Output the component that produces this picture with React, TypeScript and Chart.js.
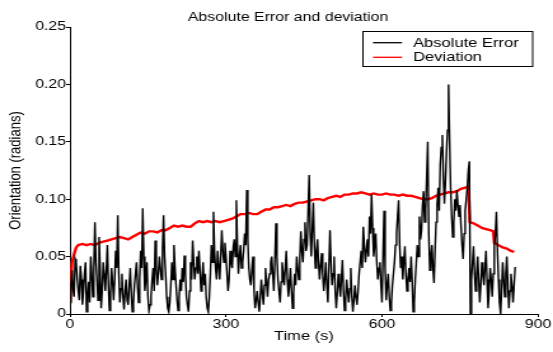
import React, { useEffect, useRef } from "react";
import { Chart, registerables } from "chart.js";

Chart.register(...registerables);

const TITLE = "Absolute Error and deviation";
const X_LABEL = "Time (s)";
const Y_LABEL = "Orientation (radians)";
const SERIES_NAMES = ["Absolute Error", "Deviation"];
const SERIES_COLORS = ["#000000", "#ff0000"];
const X_TICKS = [0, 300, 600, 900];
const Y_TICKS = [0, 0.05, 0.1, 0.15, 0.2, 0.25];

// Absolute error, one reading every 2 s starting at t = 0
const ERROR_STEP_S = 2;
const errorValues = [
  // 0 - 100
  0.010, 0.025, 0.038, 0.022, 0.015, 0.048, 0.045, 0.030, 0.020, 0.012, 0.042, 0.030, 0.008,
  0.020, 0.035, 0.045, 0.002, 0.015, 0.028, 0.010, 0.050, 0.035, 0.015, 0.040, 0.080, 0.045,
  0.030, 0.012, 0.067, 0.040, 0.005, 0.020, 0.045, 0.035, 0.020, 0.038, 0.060, 0.025, 0.003,
  0.018, 0.040, 0.028, 0.012, 0.030, 0.055, 0.040, 0.086, 0.035, 0.010, 0.022, 0.035,
  // 102 - 200
  0.015, 0.004, 0.020, 0.030, 0.012, 0.008, 0.025, 0.040, 0.018, 0.002, 0.010, 0.025, 0.035,
  0.045, 0.025, 0.010, 0.030, 0.055, 0.040, 0.092, 0.050, 0.020, 0.030, 0.045, 0.015, 0.003,
  0.008, 0.015, 0.030, 0.040, 0.020, 0.064, 0.040, 0.025, 0.035, 0.050, 0.040, 0.030, 0.055,
  0.086, 0.050, 0.035, 0.015, 0.005, 0.002, 0.010, 0.025, 0.045, 0.030, 0.060,
  // 202 - 300
  0.040, 0.025, 0.012, 0.003, 0.015, 0.030, 0.020, 0.040, 0.028, 0.051, 0.035, 0.015, 0.008,
  0.002, 0.020, 0.045, 0.030, 0.064, 0.045, 0.030, 0.040, 0.050, 0.035, 0.055, 0.038, 0.020,
  0.030, 0.045, 0.025, 0.035, 0.015, 0.005, 0.002, 0.015, 0.035, 0.060, 0.045, 0.089, 0.055,
  0.040, 0.030, 0.055, 0.042, 0.030, 0.050, 0.073, 0.055, 0.045, 0.062, 0.050,
  // 302 - 400
  0.035, 0.020, 0.030, 0.055, 0.045, 0.040, 0.058, 0.065, 0.050, 0.099, 0.060, 0.035, 0.050,
  0.060, 0.040, 0.045, 0.055, 0.070, 0.060, 0.108, 0.065, 0.040, 0.030, 0.025, 0.040, 0.050,
  0.020, 0.005, 0.012, 0.020, 0.010, 0.002, 0.015, 0.030, 0.018, 0.008, 0.025, 0.040, 0.028,
  0.015, 0.030, 0.035, 0.045, 0.050, 0.035, 0.020, 0.045, 0.079, 0.050, 0.030,
  // 402 - 500
  0.020, 0.010, 0.028, 0.045, 0.035, 0.025, 0.040, 0.055, 0.030, 0.015, 0.025, 0.040, 0.020,
  0.005, 0.018, 0.035, 0.025, 0.050, 0.040, 0.030, 0.048, 0.072, 0.055, 0.045, 0.065, 0.080,
  0.055, 0.060, 0.090, 0.121, 0.070, 0.050, 0.075, 0.097, 0.060, 0.040, 0.055, 0.065, 0.045,
  0.030, 0.042, 0.053, 0.035, 0.020, 0.030, 0.045, 0.025, 0.010, 0.040, 0.073,
  // 502 - 600
  0.045, 0.025, 0.035, 0.050, 0.020, 0.005, 0.018, 0.035, 0.025, 0.015, 0.030, 0.047, 0.020,
  0.003, 0.012, 0.030, 0.020, 0.010, 0.022, 0.040, 0.015, 0.002, 0.012, 0.025, 0.015, 0.008,
  0.020, 0.035, 0.045, 0.055, 0.040, 0.076, 0.060, 0.045, 0.055, 0.065, 0.050, 0.085, 0.070,
  0.104, 0.075, 0.050, 0.060, 0.070, 0.045, 0.030, 0.040, 0.045, 0.025, 0.010,
  // 602 - 700
  0.050, 0.090, 0.040, 0.012, 0.025, 0.035, 0.015, 0.003, 0.010, 0.025, 0.035, 0.045, 0.060,
  0.070, 0.085, 0.099, 0.060, 0.040, 0.050, 0.030, 0.045, 0.059, 0.035, 0.020, 0.030, 0.040,
  0.028, 0.050, 0.030, 0.002, 0.010, 0.030, 0.045, 0.060, 0.050, 0.085, 0.065, 0.073, 0.095,
  0.107, 0.080, 0.090, 0.120, 0.150, 0.070, 0.038, 0.050, 0.060, 0.040, 0.027,
  // 702 - 800
  0.055, 0.080, 0.095, 0.110, 0.090, 0.130, 0.145, 0.156, 0.120, 0.096, 0.115, 0.140, 0.160,
  0.200, 0.150, 0.110, 0.085, 0.067, 0.080, 0.100, 0.090, 0.108, 0.095, 0.085, 0.095, 0.076,
  0.060, 0.048, 0.070, 0.090, 0.100, 0.110, 0.125, 0.133, 0.000, 0.030, 0.045, 0.059, 0.035,
  0.020, 0.035, 0.050, 0.030, 0.010, 0.025, 0.045, 0.035, 0.025, 0.040, 0.055,
  // 802 - 856
  0.030, 0.005, 0.020, 0.040, 0.030, 0.015, 0.035, 0.060, 0.070, 0.089, 0.055, 0.030, 0.010,
  0.000, 0.020, 0.045, 0.030, 0.015, 0.035, 0.050, 0.025, 0.005, 0.020, 0.035, 0.025, 0.010,
  0.025, 0.041,
];

// Deviation
const deviationTimes = [
  0, 4, 8, 12, 16, 24, 32, 40, 48, 56, 64, 72, 80, 88, 96, 104, 112, 120, 128, 136, 144, 152,
  160, 168, 176, 184, 192, 200, 208, 216, 224, 232, 240, 248, 256, 264, 272, 280, 288, 296,
  304, 312, 320, 328, 336, 344, 352, 360, 368, 376, 384, 392, 400, 408, 416, 424, 432, 440,
  448, 456, 464, 472, 480, 488, 496, 504, 512, 520, 528, 536, 544, 552, 560, 568, 576, 584,
  592, 600, 608, 616, 624, 632, 640, 648, 656, 664, 672, 680, 688, 696, 704, 712, 720, 728,
  736, 744, 752, 760, 766, 769, 776, 784, 792, 800, 808, 814, 816, 824, 832, 840, 848, 854,
];
const deviationValues = [
  0.010, 0.045, 0.052, 0.058, 0.060, 0.061, 0.060, 0.061, 0.060, 0.062, 0.063, 0.064, 0.065,
  0.066, 0.067, 0.066, 0.065, 0.067, 0.069, 0.071, 0.070, 0.072, 0.072, 0.071, 0.073, 0.073,
  0.075, 0.077, 0.076, 0.077, 0.076, 0.076, 0.079, 0.081, 0.080, 0.081, 0.080, 0.081, 0.080,
  0.081, 0.082, 0.083, 0.085, 0.087, 0.087, 0.088, 0.087, 0.087, 0.089, 0.091, 0.091, 0.093,
  0.093, 0.094, 0.095, 0.094, 0.096, 0.097, 0.097, 0.098, 0.099, 0.100, 0.100, 0.099, 0.101,
  0.102, 0.103, 0.102, 0.104, 0.104, 0.105, 0.105, 0.106, 0.105, 0.104, 0.105, 0.104, 0.104,
  0.105, 0.104, 0.104, 0.103, 0.104, 0.103, 0.103, 0.102, 0.101, 0.100, 0.100, 0.101, 0.103,
  0.104, 0.105, 0.106, 0.106, 0.107, 0.109, 0.110, 0.111, 0.080, 0.079, 0.077, 0.075, 0.074,
  0.073, 0.072, 0.062, 0.060, 0.058, 0.057, 0.055, 0.054,
];

const FONT = "'Liberation Sans', Arial, Helvetica, sans-serif";
const CANVAS_W = 435; // drawing width, displayed stretched to 553px like the reference
const CANVAS_H = 352;
const DISPLAY_W = 553;

const overlayPlugin = {
  id: "titleAndLegend",
  afterDraw(chart: any) {
    const ctx = chart.ctx as CanvasRenderingContext2D;
    ctx.save();
    ctx.fillStyle = "#000";
    ctx.font = `12.5px ${FONT}`;
    ctx.textAlign = "center";
    ctx.textBaseline = "alphabetic";
    ctx.fillText(TITLE, 226.6, 20.7);

    // legend box
    const bx = 285.5, by = 31.5, bw = 133.5, bh = 35;
    ctx.fillStyle = "#fff";
    ctx.fillRect(bx, by, bw, bh);
    ctx.lineWidth = 1;
    ctx.strokeStyle = "#000";
    ctx.strokeRect(bx, by, bw, bh);
    const rows = [42.7, 57.3];
    ctx.font = `13px ${FONT}`;
    ctx.textAlign = "left";
    ctx.textBaseline = "middle";
    for (let i = 0; i < SERIES_NAMES.length; i++) {
      ctx.beginPath();
      ctx.strokeStyle = SERIES_COLORS[i];
      ctx.lineWidth = 1.3;
      ctx.moveTo(293.4, rows[i]);
      ctx.lineTo(316.2, rows[i]);
      ctx.stroke();
      ctx.fillStyle = "#000";
      ctx.fillText(SERIES_NAMES[i], 324.9, rows[i] + 0.3);
    }
    ctx.restore();
  },
};

export default function App() {
  const ref = useRef<HTMLCanvasElement>(null);
  useEffect(() => {
    document.body.style.margin = "0";
    const canvas = ref.current;
    if (!canvas) return;
    Chart.defaults.font.family = FONT;
    const errorData = errorValues.map((v, i) => ({ x: i * ERROR_STEP_S, y: v }));
    const deviationData = deviationTimes.map((t, i) => ({ x: t, y: deviationValues[i] }));
    const chart = new Chart(canvas, {
      type: "line",
      data: {
        datasets: [
          {
            label: SERIES_NAMES[0],
            data: errorData,
            borderColor: SERIES_COLORS[0],
            borderWidth: 1.4,
            pointRadius: 0,
            tension: 0,
          },
          {
            label: SERIES_NAMES[1],
            data: deviationData,
            borderColor: SERIES_COLORS[1],
            borderWidth: 2.4,
            pointRadius: 0,
            tension: 0,
          },
        ],
      },
      options: {
        animation: false,
        responsive: false,
        devicePixelRatio: 1,
        layout: { padding: { left: 0, right: 11.8, top: 27, bottom: 0 } },
        plugins: {
          legend: { display: false },
          title: { display: false },
          tooltip: { enabled: false },
        },
        scales: {
          x: {
            type: "linear",
            min: 0,
            max: 900,
            afterBuildTicks: (s: any) => {
              s.ticks = X_TICKS.map((v) => ({ value: v }));
            },
            afterFit: (s: any) => {
              s.height = 38;
            },
            ticks: {
              color: "#000",
              font: { size: 12.5, family: FONT },
              padding: 0,
              maxRotation: 0,
              autoSkip: false,
              callback: (v: any) => String(v),
            },
            grid: { drawOnChartArea: false, drawTicks: true, tickLength: 3, color: "#000" },
            border: { display: true, color: "#000", width: 1 },
            title: {
              display: true,
              text: X_LABEL,
              color: "#000",
              font: { size: 13, family: FONT },
              padding: { top: 0, bottom: 7.5 },
            },
          },
          y: {
            type: "linear",
            min: 0,
            max: 0.25,
            afterBuildTicks: (s: any) => {
              s.ticks = Y_TICKS.map((v) => ({ value: v }));
            },
            afterFit: (s: any) => {
              s.width = 55;
            },
            ticks: {
              color: "#000",
              font: { size: 12.5, family: FONT },
              padding: 0,
              autoSkip: false,
              callback: (v: any) => (Number(v) === 0 ? "0" : Number(v).toFixed(2)),
            },
            grid: { drawOnChartArea: false, drawTicks: true, tickLength: 3, color: "#000" },
            border: { display: true, color: "#000", width: 1 },
            title: {
              display: true,
              text: Y_LABEL,
              color: "#000",
              font: { size: 13, family: FONT },
              padding: { top: 4.4, bottom: 0 },
            },
          },
        },
      },
      plugins: [overlayPlugin],
    } as any);
    return () => chart.destroy();
  }, []);
  return (
    <canvas
      ref={ref}
      width={CANVAS_W}
      height={CANVAS_H}
      style={{ display: "block", width: `${DISPLAY_W}px`, height: `${CANVAS_H}px` }}
    />
  );
}
